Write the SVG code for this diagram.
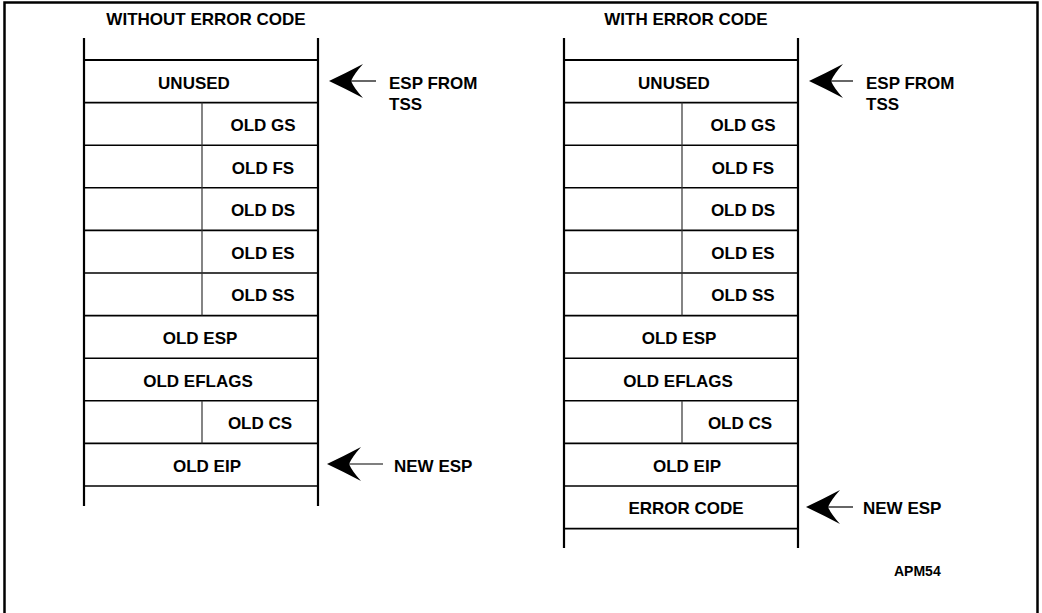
<svg xmlns="http://www.w3.org/2000/svg" width="1042" height="613" viewBox="0 0 1042 613">
<defs>
<style>
text{font-family:"Liberation Sans",Arial,sans-serif;font-weight:bold;font-size:17px;fill:#000}
.c{text-anchor:middle}
.wall{stroke:#000;stroke-width:2.2;fill:none}
.row{stroke:#000;stroke-width:1.6;fill:none}
.div{stroke:#333;stroke-width:1.2;fill:none}
.ln{stroke:#000;stroke-width:1.2;fill:none}
.head{fill:#000;stroke:none}
</style>
<path id="ah" class="head" d="M0,0 Q17,-8 34,-17 Q25,-7 22,0 Q25,7 34,17 Q17,8 0,0Z"/>
</defs>
<rect x="0" y="0" width="1042" height="613" fill="#fff"/>
<path d="M4.5,613 V2.5 H1037.5 V613" stroke="#000" stroke-width="2.5" fill="none"/>

<g id="stack-left">
<text class="c" x="206" y="25">WITHOUT ERROR CODE</text>
<line class="wall" x1="84" y1="38" x2="84" y2="506"/>
<line class="wall" x1="318" y1="38" x2="318" y2="506"/>
<line class="wall" x1="84" y1="60" x2="318" y2="60"/>
<g class="row">
<line x1="84" y1="102.6" x2="318" y2="102.6"/>
<line x1="84" y1="145.2" x2="318" y2="145.2"/>
<line x1="84" y1="187.8" x2="318" y2="187.8"/>
<line x1="84" y1="230.4" x2="318" y2="230.4"/>
<line x1="84" y1="273" x2="318" y2="273"/>
<line x1="84" y1="315.6" x2="318" y2="315.6"/>
<line x1="84" y1="358.2" x2="318" y2="358.2"/>
<line x1="84" y1="400.8" x2="318" y2="400.8"/>
<line x1="84" y1="443.4" x2="318" y2="443.4"/>
<line x1="84" y1="486" x2="318" y2="486"/>
</g>
<line class="div" x1="202" y1="102.6" x2="202" y2="315.6"/>
<line class="div" x1="202" y1="400.8" x2="202" y2="443.4"/>
<text class="c" x="194" y="89">UNUSED</text>
<text class="c" x="263" y="131">OLD GS</text>
<text class="c" x="263" y="174">OLD FS</text>
<text class="c" x="263" y="216">OLD DS</text>
<text class="c" x="263" y="259">OLD ES</text>
<text class="c" x="263" y="301">OLD SS</text>
<text class="c" x="200" y="344">OLD ESP</text>
<text class="c" x="198" y="387">OLD EFLAGS</text>
<text class="c" x="260" y="429">OLD CS</text>
<text class="c" x="207" y="472">OLD EIP</text>
</g>

<g id="stack-right">
<text class="c" x="686" y="25">WITH ERROR CODE</text>
<line class="wall" x1="564" y1="38" x2="564" y2="548"/>
<line class="wall" x1="798" y1="38" x2="798" y2="548"/>
<line class="wall" x1="564" y1="60" x2="798" y2="60"/>
<g class="row">
<line x1="564" y1="102.6" x2="798" y2="102.6"/>
<line x1="564" y1="145.2" x2="798" y2="145.2"/>
<line x1="564" y1="187.8" x2="798" y2="187.8"/>
<line x1="564" y1="230.4" x2="798" y2="230.4"/>
<line x1="564" y1="273" x2="798" y2="273"/>
<line x1="564" y1="315.6" x2="798" y2="315.6"/>
<line x1="564" y1="358.2" x2="798" y2="358.2"/>
<line x1="564" y1="400.8" x2="798" y2="400.8"/>
<line x1="564" y1="443.4" x2="798" y2="443.4"/>
<line x1="564" y1="486" x2="798" y2="486"/>
<line x1="564" y1="528.6" x2="798" y2="528.6"/>
</g>
<line class="div" x1="682" y1="102.6" x2="682" y2="315.6"/>
<line class="div" x1="682" y1="400.8" x2="682" y2="443.4"/>
<text class="c" x="674" y="89">UNUSED</text>
<text class="c" x="743" y="131">OLD GS</text>
<text class="c" x="743" y="174">OLD FS</text>
<text class="c" x="743" y="216">OLD DS</text>
<text class="c" x="743" y="259">OLD ES</text>
<text class="c" x="743" y="301">OLD SS</text>
<text class="c" x="679" y="344">OLD ESP</text>
<text class="c" x="678" y="387">OLD EFLAGS</text>
<text class="c" x="740" y="429">OLD CS</text>
<text class="c" x="687" y="472">OLD EIP</text>
<text class="c" x="686" y="514">ERROR CODE</text>
</g>

<g id="labels">
<text x="389" y="89">ESP FROM</text>
<text x="389" y="110">TSS</text>
<text x="394" y="472">NEW ESP</text>
<text x="866" y="89">ESP FROM</text>
<text x="866" y="110">TSS</text>
<text x="863" y="514">NEW ESP</text>
<text x="894" y="576" style="font-size:14px">APM54</text>
</g>

<g id="connectors">
<use href="#ah" x="329" y="81"/>
<line class="ln" x1="350" y1="81" x2="376" y2="81"/>
<use href="#ah" x="327" y="464"/>
<line class="ln" x1="348" y1="464" x2="383" y2="464"/>
<use href="#ah" x="809" y="81"/>
<line class="ln" x1="830" y1="81" x2="853" y2="81"/>
<use href="#ah" x="806" y="507"/>
<line class="ln" x1="827" y1="507" x2="853" y2="507"/>
</g>
</svg>
